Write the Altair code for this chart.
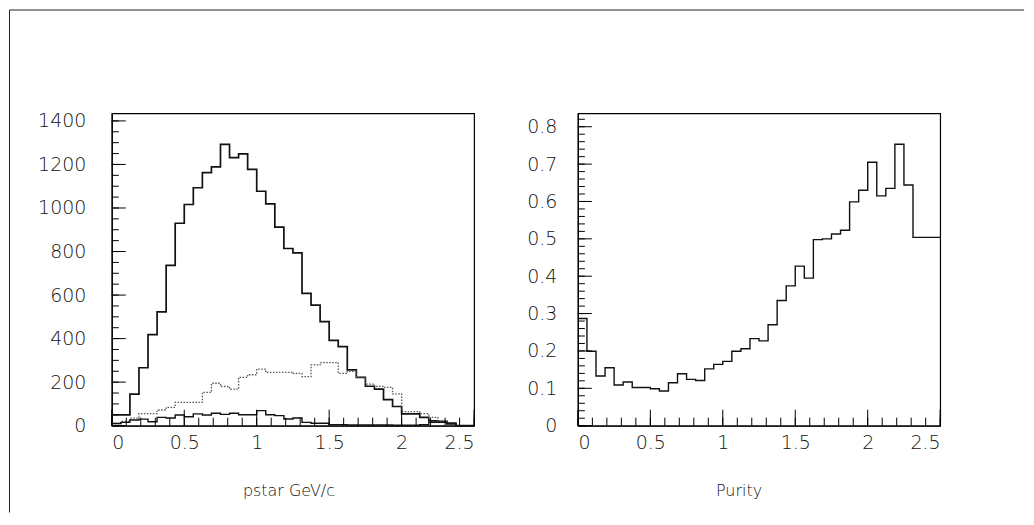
import altair as alt
import pandas as pd

# ---------------- data ----------------
n_bins = 40
x_min, x_max = 0.0, 2.5

# left panel: pstar distributions (counts per bin)
main_counts = [50, 50, 145, 266, 418, 523, 736, 930, 1016, 1093,
               1162, 1189, 1292, 1231, 1249, 1177, 1077, 1019, 912, 814,
               794, 608, 554, 478, 392, 363, 256, 222, 181, 168,
               120, 88, 54, 54, 38, 22, 20, 12, 0, 0]
dotted_counts = [10, 20, 35, 55, 55, 72, 84, 107, 107, 107,
                 153, 195, 180, 168, 222, 234, 260, 245, 245, 245,
                 240, 225, 279, 290, 290, 240, 250, 222, 191, 181,
                 176, 146, 65, 65, 55, 38, 20, 8, 0, 0]
low_counts = [10, 15, 26, 30, 18, 38, 35, 49, 41, 54,
              49, 57, 52, 57, 50, 50, 69, 50, 46, 31,
              35, 15, 11, 11, 5, 5, 3, 3, 3, 3,
              3, 2, 2, 2, 5, 15, 15, 8, 0, 0]

# right panel: purity per bin
purity = [0.287, 0.199, 0.133, 0.155, 0.109, 0.117, 0.102, 0.102, 0.099, 0.093,
          0.115, 0.139, 0.124, 0.121, 0.152, 0.164, 0.172, 0.199, 0.206, 0.233,
          0.227, 0.270, 0.335, 0.374, 0.427, 0.395, 0.498, 0.500, 0.513, 0.523,
          0.599, 0.630, 0.705, 0.615, 0.635, 0.753, 0.644, 0.504, 0.504, 0.504]

# axis tick values
x_major = [0, 0.5, 1, 1.5, 2, 2.5]
x_minor = [round(i * 0.1, 2) for i in range(26)]
y1_major = [0, 200, 400, 600, 800, 1000, 1200, 1400]
y1_minor = list(range(0, 1401, 50))
y2_major = [0, 0.1, 0.2, 0.3, 0.4, 0.5, 0.6, 0.7, 0.8]
y2_minor = [round(i * 0.02, 2) for i in range(42)]

y1_domain = [0, 1435]
y2_domain = [0, 0.836]

left_title = "pstar GeV/c"
right_title = "Purity"

# ---------------- helpers ----------------
bin_width = (x_max - x_min) / n_bins


def steps(vals):
    xs = [x_min + i * bin_width for i in range(len(vals))] + [x_max]
    ys = list(vals) + [vals[-1]]
    return pd.DataFrame({"x": xs, "y": ys})


FONT = "DejaVu Sans"
TXT = "#111111"
W, H = 363, 313

xscale = alt.Scale(domain=[x_min, x_max], nice=False, zero=False)


def x_axis_major(title, title_x):
    return alt.Axis(values=x_major, format="~g", orient="bottom",
                    ticks=False, domainColor="black", domainWidth=1.2,
                    labelFont=FONT, labelFontSize=19, labelColor=TXT,
                    labelFontWeight=200,
                    labelBaseline="middle", labelPadding=17, labelFlush=True,
                    grid=False, title=title, titleFont=FONT, titleFontSize=16,
                    titleFontWeight=200, titleColor=TXT,
                    titleX=title_x, titleY=65, titleBaseline="middle",
                    titleAnchor="middle", titleAlign="center")


def y_axis_major(values, pad, fmt):
    return alt.Axis(values=values, format=fmt, orient="left",
                    ticks=False, domainColor="black", domainWidth=1.2,
                    labelFont=FONT, labelFontSize=19, labelColor=TXT,
                    labelFontWeight=200, labelPadding=pad, labelFlush=False,
                    grid=False, title=None)


def x_ticks(values, length, axis):
    df = pd.DataFrame({"x": values})
    return alt.Chart(df).mark_rule(color="black", strokeWidth=1).encode(
        x=alt.X("x:Q", scale=xscale, axis=axis),
        y=alt.value(H), y2=alt.value(H - length),
    )


def y_ticks(values, yscale, length, axis):
    df = pd.DataFrame({"y": values})
    return alt.Chart(df).mark_rule(color="black", strokeWidth=1).encode(
        y=alt.Y("y:Q", scale=yscale, axis=axis),
        x=alt.value(0), x2=alt.value(length),
    )


frame_data = alt.Data(values=[{}])


def hline(x1, x2, y):
    return alt.Chart(frame_data).mark_rule(color="#222222", strokeWidth=1.2).encode(
        x=alt.value(x1), x2=alt.value(x2), y=alt.value(y)
    )


def vline(x, y1, y2):
    return alt.Chart(frame_data).mark_rule(color="#222222", strokeWidth=1).encode(
        x=alt.value(x), y=alt.value(y1), y2=alt.value(y2)
    )


# ---------------- left panel ----------------
y1scale = alt.Scale(domain=y1_domain, nice=False, zero=True)
ax_x1 = x_axis_major(left_title, 177)
ax_y1 = y_axis_major(y1_major, 26, "d")

main_layer = alt.Chart(steps(main_counts)).mark_line(
    interpolate="step-after", color="#111111", strokeWidth=1.7
).encode(
    x=alt.X("x:Q", scale=xscale, axis=ax_x1),
    y=alt.Y("y:Q", scale=y1scale, axis=ax_y1),
)

dotted_layer = alt.Chart(steps(dotted_counts)).mark_line(
    interpolate="step-after", color="#555555", strokeWidth=1.3, strokeDash=[1.5, 1.5]
).encode(
    x=alt.X("x:Q", scale=xscale, axis=ax_x1),
    y=alt.Y("y:Q", scale=y1scale, axis=ax_y1),
)

low_layer = alt.Chart(steps(low_counts)).mark_line(
    interpolate="step-after", color="#111111", strokeWidth=1.4
).encode(
    x=alt.X("x:Q", scale=xscale, axis=ax_x1),
    y=alt.Y("y:Q", scale=y1scale, axis=ax_y1),
)

left = alt.layer(
    main_layer, dotted_layer, low_layer,
    x_ticks(x_minor, 8, ax_x1), x_ticks(x_major, 16, ax_x1),
    y_ticks(y1_minor, y1scale, 7, ax_y1), y_ticks(y1_major, y1scale, 14, ax_y1),
    hline(-102.5, 914, -103.5), vline(-102.5, -103.5, 400)
).properties(width=W, height=H)

# ---------------- right panel ----------------
y2scale = alt.Scale(domain=y2_domain, nice=False, zero=True)
ax_x2 = x_axis_major(right_title, 161)
ax_y2 = y_axis_major(y2_major, 21, "~g")

pur_layer = alt.Chart(steps(purity)).mark_line(
    interpolate="step-after", color="#111111", strokeWidth=1.4
).encode(
    x=alt.X("x:Q", scale=xscale, axis=ax_x2),
    y=alt.Y("y:Q", scale=y2scale, axis=ax_y2),
)

right = alt.layer(
    pur_layer,
    x_ticks(x_minor, 8, ax_x2), x_ticks(x_major, 16, ax_x2),
    y_ticks(y2_minor, y2scale, 7, ax_y2), y_ticks(y2_major, y2scale, 14, ax_y2),
).properties(width=W, height=H)

chart = alt.hconcat(left, right, spacing=104, bounds="flush").properties(
    padding=0
).configure(
    font=FONT
).configure_view(
    stroke="black", strokeWidth=1.2
)

chart.save("out.html", embed_options={"renderer": "svg", "actions": False})
